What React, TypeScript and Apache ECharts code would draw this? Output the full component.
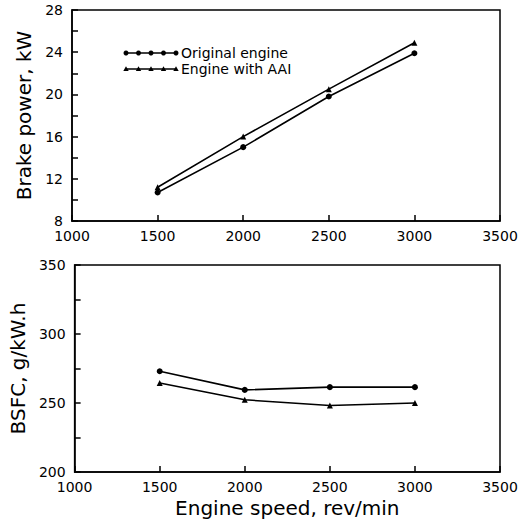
import React, { useEffect, useRef } from "react";
import * as echarts from "echarts";

const speeds = [1500, 2000, 2500, 3000];
const powerOriginal = [10.7, 15.0, 19.8, 23.9];
const powerAAI = [11.2, 16.0, 20.5, 24.9];
const bsfcOriginal = [273, 259.5, 261.5, 261.5];
const bsfcAAI = [264.5, 252.3, 248.2, 250];
const seriesNames = ["Original engine", "Engine with AAI"];

const FONT = "DejaVu Sans";

export default function App() {
  const ref = useRef<HTMLDivElement>(null);
  useEffect(() => {
    if (!ref.current) return;
    const chart = echarts.init(ref.current, undefined, { renderer: "svg" });
    const pair = (ys: number[]) => speeds.map((x, i) => [x, ys[i]]);
    const axisLine = { show: true, lineStyle: { color: "#000", width: 1.5 } };
    const labelStyle = { color: "#000", fontFamily: FONT, fontSize: 14 };
    const tick = { show: true, inside: true, length: 6, lineStyle: { color: "#000", width: 1.5 } };
    const xAxisBase = {
      type: "value" as const,
      min: 1000,
      max: 3500,
      interval: 500,
      axisLine,
      axisTick: tick,
      axisLabel: { ...labelStyle, margin: 8, formatter: (v: number) => String(v) },
      splitLine: { show: false },
    };
    const nameStyle = { color: "#000", fontFamily: FONT, fontSize: 20 };
    const lineSeries = (name: string, data: number[][], symbol: string, xi: number) => ({
      type: "line",
      name,
      xAxisIndex: xi,
      yAxisIndex: xi,
      data,
      symbol,
      symbolSize: 6,
      lineStyle: { color: "#000", width: 1.6 },
      itemStyle: { color: "#000" },
    });
    const legendY = [53, 69];
    const legendGraphics: any[] = [];
    legendY.forEach((y, k) => {
      legendGraphics.push({
        type: "line",
        shape: { x1: 125, y1: y, x2: 177, y2: y },
        style: { stroke: "#000", lineWidth: 1.6 },
      });
      for (let j = 0; j < 5; j++) {
        const cx = 126 + j * 12.5;
        if (k === 0) {
          legendGraphics.push({ type: "circle", shape: { cx, cy: y, r: 2.5 }, style: { fill: "#000" } });
        } else {
          legendGraphics.push({
            type: "polygon",
            shape: { points: [[cx - 2.7, y + 2], [cx + 2.7, y + 2], [cx, y - 2.7]] },
            style: { fill: "#000" },
          });
        }
      }
      legendGraphics.push({
        type: "text",
        x: 181,
        y,
        style: { text: seriesNames[k], fill: "#000", font: `14px "${FONT}"`, verticalAlign: "middle" },
      });
    });
    const yAxisBase = (labelStep: number) => ({
      type: "value" as const,
      axisLine,
      axisTick: tick,
      axisLabel: {
        ...labelStyle,
        margin: 9,
        formatter: (v: number) => (v % labelStep === 0 ? String(v) : ""),
      },
      splitLine: { show: false },
      nameLocation: "middle" as const,
      nameTextStyle: nameStyle,
    });
    chart.setOption({
      animation: false,
      backgroundColor: "#fff",
      grid: [
        { left: 72, width: 428, top: 10, height: 211, show: true, borderColor: "#000", borderWidth: 1.5 },
        { left: 72, width: 428, top: 265, height: 207, show: true, borderColor: "#000", borderWidth: 1.5 },
      ],
      xAxis: [
        { ...xAxisBase, gridIndex: 0 },
        {
          ...xAxisBase,
          gridIndex: 1,
          name: "Engine speed, rev/min",
          nameLocation: "middle",
          nameGap: 26,
          nameTextStyle: nameStyle,
        },
      ],
      yAxis: [
        { ...yAxisBase(4), gridIndex: 0, min: 8, max: 28, interval: 2, name: "Brake power, kW", nameGap: 31 },
        { ...yAxisBase(50), gridIndex: 1, min: 200, max: 350, interval: 25, name: "BSFC, g/kW.h", nameGap: 40 },
      ],
      series: [
        lineSeries(seriesNames[0], pair(powerOriginal), "circle", 0),
        lineSeries(seriesNames[1], pair(powerAAI), "triangle", 0),
        lineSeries(seriesNames[0], pair(bsfcOriginal), "circle", 1),
        lineSeries(seriesNames[1], pair(bsfcAAI), "triangle", 1),
      ],
      graphic: legendGraphics,
    });
    return () => chart.dispose();
  }, []);
  return (
    <div
      ref={ref}
      style={{ position: "fixed", left: 0, top: 0, width: 522, height: 524, background: "#fff" }}
    />
  );
}
